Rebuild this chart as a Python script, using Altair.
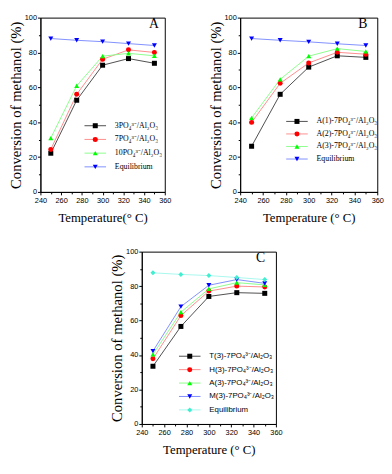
import altair as alt
import pandas as pd

# ---------------- data ----------------
temps = [250, 275, 300, 325, 350]
x_ticks = [240, 260, 280, 300, 320, 340, 360]
x_minor = [250, 270, 290, 310, 330, 350]
y_ticks = [0, 20, 40, 60, 80, 100]
y_minor = [10, 30, 50, 70, 90]

a_names = ["3PO₄³⁻/Al₂O₃", "7PO₄³⁻/Al₂O₃", "10PO₄³⁻/Al₂O₃", "Equilibrium"]
a_vals = [
    [22.2, 52.6, 72.7, 76.5, 73.8],
    [24.4, 56.0, 76.1, 81.5, 80.0],
    [30.9, 60.9, 77.9, 79.5, 78.1],
    [88.0, 87.0, 86.2, 85.1, 84.0],
]

b_names = ["A(1)-7PO₄³⁻/Al₂O₃", "A(2)-7PO₄³⁻/Al₂O₃", "A(3)-7PO₄³⁻/Al₂O₃", "Equilibrium"]
b_vals = [
    [26.2, 56.0, 71.6, 78.1, 77.2],
    [39.9, 62.3, 74.0, 80.1, 79.0],
    [42.5, 64.6, 77.9, 82.2, 80.6],
    [88.0, 87.0, 86.1, 85.0, 84.0],
]

c_names = ["T(3)-7PO₄³⁻/Al₂O₃", "H(3)-7PO₄³⁻/Al₂O₃", "A(3)-7PO₄³⁻/Al₂O₃",
           "M(3)-7PO₄³⁻/Al₂O₃", "Equilibrium"]
c_vals = [
    [33.5, 56.6, 74.0, 76.2, 75.8],
    [37.8, 62.9, 77.1, 80.0, 79.5],
    [40.4, 64.9, 78.4, 82.0, 80.7],
    [42.3, 68.1, 80.5, 83.8, 81.6],
    [87.7, 86.8, 86.1, 85.0, 83.8],
]

marker_colors = ["#000000", "#ff0000", "#00ff00", "#0000ff", "#40eed0"]
line_colors = ["#4d4d4d", "#ff8c8c", "#8cff8c", "#7f8fff", "#a8f8ee"]
shapes_ab = ["square", "circle", "triangle-up", "triangle-down"]
shapes_c = ["square", "circle", "triangle-up", "triangle-down", "diamond"]

SERIF = "Liberation Serif"
SANS = "Liberation Sans"
Y_TITLE = "Conversion of methanol (%)"


def long_df(names, vals):
    rows = []
    for n, v in zip(names, vals):
        for t, c in zip(temps, v):
            rows.append({"T": t, "conv": c, "series": n})
    return pd.DataFrame(rows)


def panel(letter, letter_dx, names, vals, mcolors, lcolors, shapes,
          width, height, xtitle, label_font, leg_x, leg_y, row_pad):
    df = long_df(names, vals)
    xs = alt.Scale(domain=[240, 360], nice=False)
    ys = alt.Scale(domain=[0, 100], nice=False)
    x_major = alt.X("T:Q", scale=xs,
                    axis=alt.Axis(values=x_ticks, title=xtitle, orient="bottom"))
    y_major = alt.Y("conv:Q", scale=ys,
                    axis=alt.Axis(values=y_ticks, title=Y_TITLE, orient="left"))
    x_min = alt.X("T:Q", scale=xs,
                  axis=alt.Axis(values=x_minor, title=None, labels=False,
                                domain=False, tickSize=2, orient="bottom"))
    y_min = alt.Y("conv:Q", scale=ys,
                  axis=alt.Axis(values=y_minor, title=None, labels=False,
                                domain=False, tickSize=2, orient="left"))
    common = dict(orient="none", legendX=leg_x, legendY=leg_y, title=None,
                  labelFont=label_font, labelFontSize=8, labelColor="black",
                  rowPadding=row_pad, padding=0, symbolOffset=8,
                  labelOffset=16, labelLimit=200)
    line_leg = alt.Legend(symbolType="M-5.5,0H5.5", symbolSize=16,
                          symbolStrokeWidth=1, **common)
    mark_leg = alt.Legend(symbolSize=26, symbolStrokeWidth=0,
                          labelOpacity=0, **common)
    base = alt.Chart(df)
    lines = base.mark_line(strokeWidth=1).encode(
        x=x_major, y=y_major,
        stroke=alt.Stroke("series:N",
                          scale=alt.Scale(domain=names, range=lcolors[:len(names)]),
                          legend=line_leg),
    )
    pts = base.mark_point(filled=True, size=26, opacity=1).encode(
        x=x_min, y=y_min,
        fill=alt.Fill("series:N",
                      scale=alt.Scale(domain=names, range=mcolors[:len(names)]),
                      legend=mark_leg),
        shape=alt.Shape("series:N",
                        scale=alt.Scale(domain=names, range=shapes),
                        legend=mark_leg),
    )
    return alt.layer(lines, pts).resolve_scale(
        stroke="independent", fill="independent", shape="independent"
    ).resolve_axis(
        x="independent", y="independent"
    ).properties(
        width=width, height=height,
        title=alt.Title(letter, anchor="end", frame="group", offset=-18,
                        dx=letter_dx, font=SERIF, fontSize=14,
                        fontWeight="normal", color="black"),
    )


pa = panel("A", -6, a_names, a_vals, marker_colors, line_colors, shapes_ab,
           127, 178, "Temperature(° C)", SERIF, 44, 106.4, 6)
pb = panel("B", -10, b_names, b_vals, marker_colors, line_colors, shapes_ab,
           140, 178, "Temperature (° C)", SERIF, 46, 102, 4.8)
pc = panel("C", -11, c_names, c_vals, marker_colors, line_colors, shapes_c,
           137, 176, "Temperature (° C)", SANS, 37, 102.8, 5.7)

top = alt.hconcat(pa, pb, spacing=36)
chart = alt.vconcat(top, pc, spacing=22, center=True, padding=0).resolve_scale(
    stroke="independent", fill="independent", shape="independent"
).configure_view(
    stroke="black", strokeWidth=1
).configure_axis(
    labelFont=SANS, labelFontSize=7.5, labelColor="black", labelFlush=False,
    labelOverlap=False, tickColor="black", domainColor="black", tickSize=3,
    tickWidth=1, domainWidth=1, grid=False, titleFont=SERIF,
    titleFontWeight="normal", titleColor="black",
).configure_axisX(
    labelPadding=2, titlePadding=8, titleFontSize=13
).configure_axisY(
    labelPadding=1, titlePadding=1, titleFontSize=15
)

chart.save("out.html", embed_options={"renderer": "svg", "actions": False})
